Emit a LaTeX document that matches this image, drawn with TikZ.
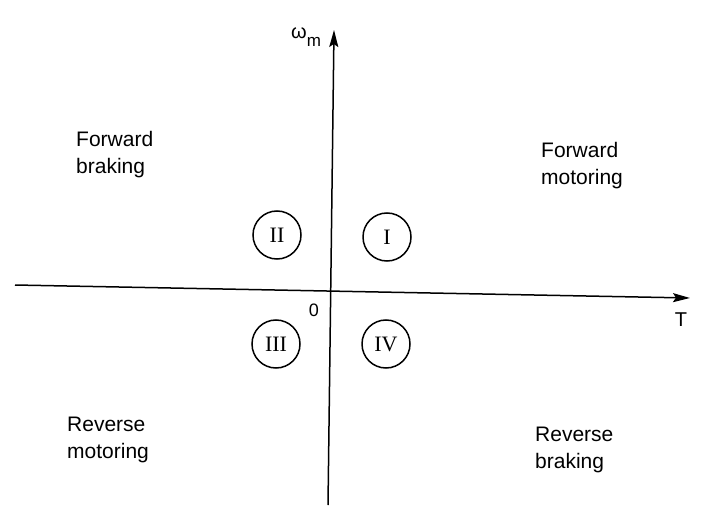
\documentclass[tikz,border=0pt]{standalone}
\usepackage{fontspec}
\setmainfont{Liberation Sans}
\newfontfamily\numeralfont{Liberation Serif}
\usetikzlibrary{arrows.meta}

\begin{document}
\begin{tikzpicture}[
    x=1bp, y=-1bp,
    axisline/.style={line width=1.5bp, -{Stealth[length=17bp,width=9bp,inset=3bp]}},
    quadlabel/.style={anchor=north west, inner sep=0pt, align=left,
        font=\fontsize{21bp}{27bp}\selectfont},
    quadmark/.style={draw, circle, line width=1.5bp, minimum size=48bp, inner sep=0pt,
        font=\numeralfont\fontsize{22bp}{22bp}\selectfont},
    axislabel/.style={inner sep=0pt, font=\fontsize{20bp}{20bp}\selectfont}
  ]
  \useasboundingbox[fill=white] (0,0) rectangle (716,525);

  % axis end points
  \coordinate (wbot) at (328,505);
  \coordinate (wtop) at (334,30);
  \coordinate (tleft) at (15,285);
  \coordinate (tright) at (690,298);

  % speed axis and torque axis
  \draw[axisline] (wbot) -- (wtop);
  \draw[axisline] (tleft) -- (tright);

  % axis labels
  \node[axislabel, anchor=base west] (wlabel) at (291,39)
    {ω\raisebox{-8bp}{\fontsize{17bp}{17bp}\selectfont m}};
  \node[axislabel] (tlabel) at (681,320) {T};
  \node[inner sep=0pt, font=\fontsize{18bp}{18bp}\selectfont] (origin) at (314,310) {0};

  % quadrant numbers
  \node[quadmark] (q1) at (387,237) {I};
  \node[quadmark] (q2) at (277,235) {II};
  \node[quadmark] (q3) at (276,344) {III};
  \node[quadmark] (q4) at (386,344) {IV};

  % operating modes
  \node[quadlabel] (fb) at (76,131) {Forward\\braking};
  \node[quadlabel] (fm) at (541,142) {Forward\\motoring};
  \node[quadlabel] (rm) at (67,417) {Reverse\\motoring};
  \node[quadlabel] (rb) at (535,427) {Reverse\\braking};
\end{tikzpicture}
\end{document}
